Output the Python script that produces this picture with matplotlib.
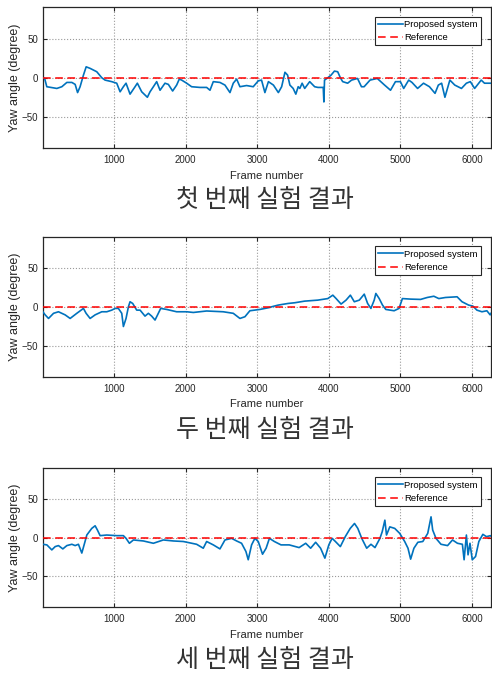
import matplotlib
matplotlib.use("Agg")
from matplotlib import pyplot as plt

frames_1 = [5, 30, 60, 200, 270, 340, 410, 456, 490, 525, 572, 610, 665, 758, 828, 874, 967,
            1037, 1084, 1130, 1167, 1223, 1293, 1325, 1386, 1465, 1502, 1549, 1595, 1642, 1711,
            1758, 1818, 1874, 1911, 1944, 2014, 2083, 2200, 2293, 2340, 2386, 2479, 2549, 2619,
            2665, 2712, 2758, 2851, 2944, 3014, 3060, 3107, 3156, 3226, 3295, 3341, 3387, 3424,
            3456, 3502, 3539, 3572, 3595, 3627, 3663, 3733, 3802, 3848, 3922, 3931, 3940, 3986,
            4032, 4078, 4124, 4161, 4194, 4263, 4318, 4401, 4456, 4493, 4576, 4677, 4779, 4862,
            4931, 5000, 5046, 5116, 5162, 5240, 5323, 5406, 5484, 5530, 5576, 5622, 5691, 5760,
            5853, 5922, 5977, 6037, 6129, 6175, 6266]
yaw_1 = [0, -1, -11.5, -13.7, -11.5, -6, -6, -8.5, -19, -11.5, 3.4, 14, 12, 7.7, 0, -3, -5,
         -7, -18, -11.5, -7, -21, -11.5, -7, -18, -25, -18, -11.5, -5, -16, -7,
         -8.5, -17, -9.4, -1.7, -3, -7, -11.5, -12.4, -12.4, -16, -5, -6, -9.4, -19,
         -7, -1.7, -11.5, -10, -11.5, -4, -3, -19, -5, -9.4, -19, -11.5, 7, 3.4,
         -9.4, -13.7, -21, -11.5, -13.7, -7, -13.7, -5, -11.5, -12.4, -12.4, -31, -3, 0,
         3.4, 8.5, 7.7, 0, -5, -7, -3, -0.9, -11.5, -11.5, -3, -0.9, -9.4, -16,
         -5, -5, -13.7, -3, -6, -13.7, -7, -11.5, -20, -9.4, -7, -25, -3, -9.4,
         -13.7, -7, -5, -13.7, -3, -7, -7]

frames_2 = [5, 37, 84, 154, 223, 316, 386, 479, 572, 609, 665, 735, 828, 898, 967, 1014, 1060,
            1107, 1130, 1167, 1200, 1223, 1260, 1316, 1363, 1432, 1479, 1525, 1572, 1618, 1651,
            1735, 1874, 2014, 2107, 2293, 2525, 2665, 2758, 2828, 2897, 3037, 3177, 3200, 3293,
            3431, 3523, 3662, 3847, 3986, 4056, 4102, 4171, 4241, 4301, 4356, 4426, 4495, 4542,
            4588, 4634, 4657, 4704, 4750, 4796, 4912, 4981, 5028, 5143, 5282, 5375, 5467, 5537,
            5630, 5792, 5861, 5953, 6013, 6069, 6139, 6208, 6254, 6266]
yaw_2 = [-6, -10, -14.6, -8, -6, -10, -14.6, -8, -1.7, -8, -14.6, -10, -6, -6, -3.9, -1.7, -1.7,
         -8, -25, -14.6, 0.4, 6.9, 4.7, -3.9, -3.9, -11.6, -8, -11.6, -16.7, -8, -1.7,
         -3, -6, -6, -6.9, -5, -6, -8, -14.6, -12.4, -4.7, -3, -0.4, 0.4, 2.6,
         4.7, 5.6, 7.7, 9, 11, 15.4, 11, 3.9, 9, 15.4, 6.9, 9, 16.7, 4.7,
         -1.7, 9, 17.6, 11, 2.6, -3, -4.7, -1.7, 11, 10.3, 9.9, 12.4, 14, 11,
         12.4, 13.3, 6.9, 2.6, 1.3, -3.9, -6, -4.7, -10, -8]

frames_3 = [5, 61, 130, 177, 223, 284, 340, 410, 456, 502, 549, 581, 619, 688, 735, 767, 805,
            898, 1037, 1130, 1167, 1214, 1270, 1409, 1549, 1688, 1828, 1967, 2153, 2246, 2293,
            2386, 2479, 2549, 2642, 2712, 2781, 2842, 2874, 2921, 2967, 3014, 3074, 3124, 3170,
            3239, 3332, 3447, 3585, 3677, 3746, 3816, 3885, 3945, 4000, 4046, 4092, 4161, 4230,
            4299, 4359, 4405, 4460, 4529, 4589, 4645, 4714, 4746, 4783, 4806, 4852, 4921, 4990,
            5060, 5106, 5143, 5189, 5244, 5313, 5382, 5428, 5451, 5497, 5567, 5659, 5728, 5797,
            5866, 5890, 5922, 5945, 5972, 6004, 6050, 6096, 6152, 6202, 6258, 6266]
yaw_3 = [-8.6, -9.4, -15.9, -11.6, -10.3, -14.6, -10.3, -8.6, -10.3, -8.6, -20, -9.4, 3.4, 12,
         15.4, 9.9, 2.6, 3.4, 2.6, 2.6, -0.9, -7.3, -3, -4.3, -7.3, -3, -4.3, -5, -8.6, -13.7, -5,
         -9.4, -14.6, -3, -0.9, -4.3, -7.3, -18, -28.7, -9.4, -0.9, -5, -21.5, -13.7, -0.9,
         -5, -9.4, -9.4, -12.9, -7.3, -13.7, -6, -13.7, -26.6, -9.4, -0.9, -5, -11.6, 1.3,
         12, 18.4, 12, -0.9, -13.7, -8.6, -12.9, -0.9, 7.7, 22.7, 3.4, 14, 12, 5.6,
         -5, -13.7, -27.9, -13.7, -6, -5, 5.6, 27, 9.9, -0.9, -8.6, -10.3, -3, -7.3,
         -8.6, -28.7, 3.4, -22.3, -7.3, -28.7, -24.5, -5, 4.3, 1.3, 2.6, 2.0]

captions = ["첫 번째 실험 결과", "두 번째 실험 결과", "세 번째 실험 결과"]
x_ticks = [1000, 2000, 3000, 4000, 5000, 6000]
y_ticks = [-50, 0, 50]
X_MAX = 6266

BLUE = "#0072BD"
RED = "#FF0000"

plt.rcParams["font.family"] = ["Liberation Sans", "DejaVu Sans"]

fig = plt.figure(figsize=(4.92, 6.74), dpi=100)

# axes boxes in figure fractions: left, bottom, width, height
boxes = [
    [0.0864, 0.7804, 0.9116, 0.2085],
    [0.0864, 0.4407, 0.9116, 0.2073],
    [0.0864, 0.0994, 0.9116, 0.2058],
]
caption_y = [1 - 200 / 674, 1 - 430 / 674, 1 - 660 / 674]

series = [(frames_1, yaw_1), (frames_2, yaw_2), (frames_3, yaw_3)]

for box, (frames, yaw), cap, cy in zip(boxes, series, captions, caption_y):
    ax = fig.add_axes(box)
    ax.plot(frames, yaw, color=BLUE, lw=1.2, label="Proposed system", zorder=3)
    ax.plot([0, X_MAX], [0, 0], color=RED, lw=1.1, ls=(0, (5, 3)), label="Reference", zorder=4)

    ax.set_xlim(0, X_MAX)
    ax.set_ylim(-90, 90)
    ax.set_xticks(x_ticks)
    ax.set_yticks(y_ticks)
    ax.tick_params(direction="in", length=3, width=0.8, labelsize=7,
                   top=True, right=True, colors="#262626")
    ax.tick_params(axis="x", pad=5)
    ax.tick_params(axis="y", pad=3)
    ax.grid(True, ls=":", color="#9a9a9a", lw=0.8)
    for sp in ax.spines.values():
        sp.set_linewidth(0.9)
        sp.set_color("#262626")

    ax.set_xlabel("Frame number", fontsize=8, labelpad=4, color="#262626")
    ax.set_ylabel("Yaw angle (degree)", fontsize=9, color="#262626")
    ax.yaxis.set_label_coords(-0.049, 0.5)

    leg = ax.legend(loc="upper right", bbox_to_anchor=(0.978, 0.935), fontsize=6.8,
                    handlelength=2.6, handletextpad=0.15, borderpad=0.35,
                    labelspacing=0.45, fancybox=False, framealpha=1, borderaxespad=0)
    leg.get_frame().set_edgecolor("#262626")
    leg.get_frame().set_linewidth(0.8)

    fig.text(265 / 492, cy, cap, ha="center", va="center", fontsize=18,
             family=["Noto Sans CJK KR", "DejaVu Sans"], color="#333333")

fig.savefig("out.png", dpi=100)
